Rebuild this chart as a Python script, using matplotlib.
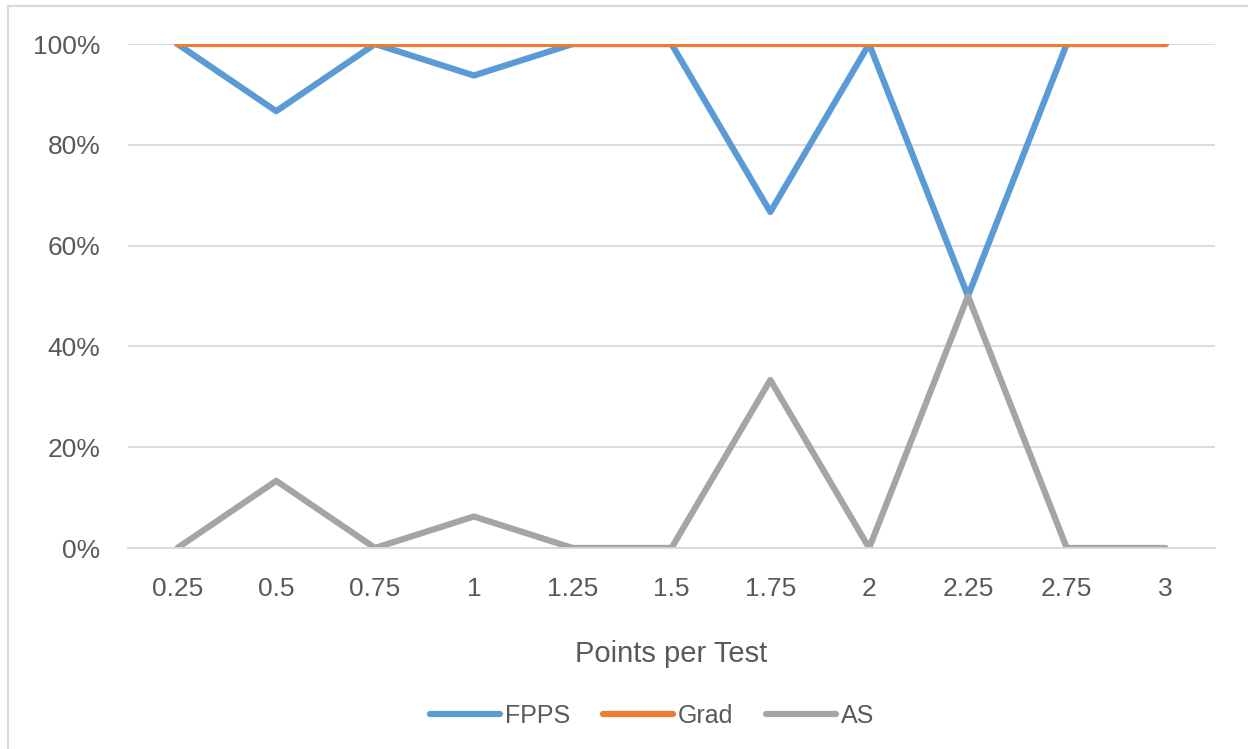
import numpy as np
import matplotlib.pyplot as plt
from matplotlib.patches import Rectangle
from matplotlib.ticker import PercentFormatter

# points-per-test buckets and share of each group (%)
points = ['0.25', '0.5', '0.75', '1', '1.25', '1.5', '1.75', '2', '2.25', '2.75', '3']
fpps = [100, 86.67, 100, 93.75, 100, 100, 66.67, 100, 50, 100, 100]
grad = [100, 100, 100, 100, 100, 100, 100, 100, 100, 100, 100]
as_ = [0, 13.33, 0, 6.25, 0, 0, 33.33, 0, 50, 0, 0]

plt.rcParams['font.family'] = ['Liberation Sans', 'DejaVu Sans']
txt = '#595959'

fig = plt.figure(figsize=(12.48, 7.49), dpi=100)
ax = fig.add_axes([128/1248, 1 - 548/749, (1215 - 128)/1248, (548 - 44)/749])

# chart-area frame
fig.patches.append(Rectangle((8/1248, -0.05), 1.1, 1 - 6/749 + 0.05, transform=fig.transFigure,
                             fill=False, edgecolor='#d9d9d9', linewidth=1.5))

x = np.arange(len(points))
style = dict(linewidth=4.5, solid_capstyle='round', solid_joinstyle='round')
ax.plot(x, fpps, color='#5B9BD5', label='FPPS', **style)
ax.plot(x, grad, color='#ED7D31', label='Grad', **style)
ax.plot(x, as_, color='#A5A5A5', label='AS', **style)

ax.set_xlim(-0.5, len(points) - 0.5)
ax.set_ylim(0, 100)
ax.set_yticks(range(0, 101, 20))
ax.yaxis.set_major_formatter(PercentFormatter(decimals=0))
ax.set_xticks(x)
ax.set_xticklabels(points)
ax.grid(axis='y', color='#d9d9d9', linewidth=1.3)
ax.set_axisbelow(True)
for s in ['top', 'right', 'left']:
    ax.spines[s].set_visible(False)
ax.spines['bottom'].set_color('#d9d9d9')
ax.spines['bottom'].set_linewidth(1.3)
ax.tick_params(length=0, labelsize=19, labelcolor=txt)
ax.tick_params(axis='x', pad=21)
ax.tick_params(axis='y', pad=20)

ax.set_xlabel('Points per Test', fontsize=21, color=txt, labelpad=28)

ax.legend(loc='center', bbox_to_anchor=(652/1248, 1 - 716/749), bbox_transform=fig.transFigure,
          ncol=3, frameon=False, fontsize=18, labelcolor=txt, handlelength=2.8,
          handletextpad=0.2, columnspacing=1.3)

fig.savefig('out.png', dpi=100)
